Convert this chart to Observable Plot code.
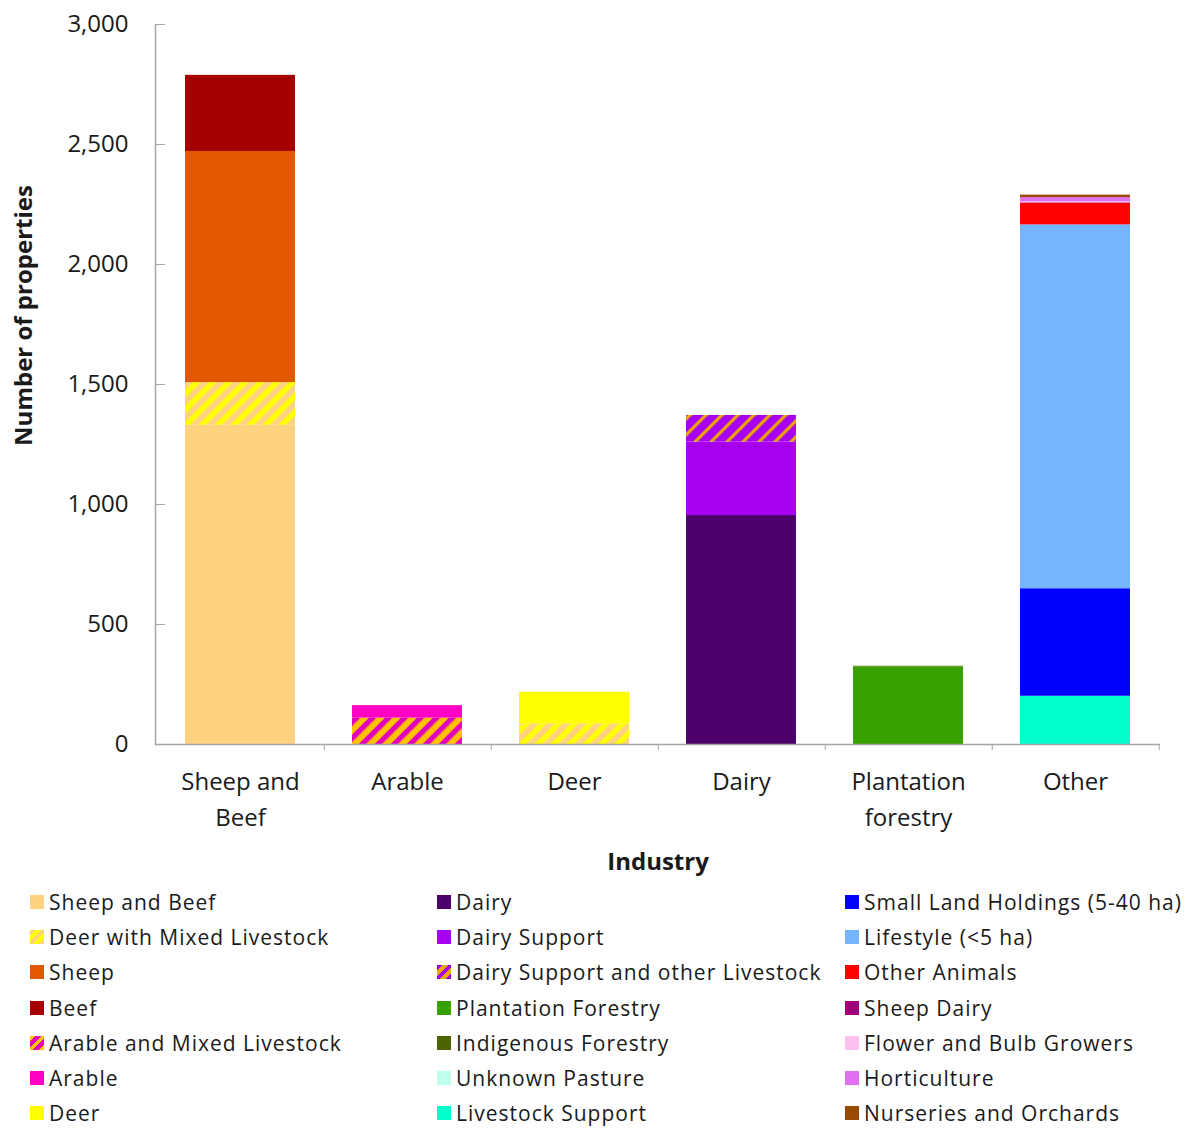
<!DOCTYPE html>
<html><head><meta charset="utf-8">
<script src="https://cdn.jsdelivr.net/npm/d3@7"></script>
<script src="https://cdn.jsdelivr.net/npm/@observablehq/plot@0.6"></script>
<style>
body{margin:0;background:#fff;font-family:"Open Sans",sans-serif;}
#legend{display:grid;grid-template-columns:407px 408px 340px;grid-template-rows:repeat(7,35.3px);grid-auto-flow:column;padding-left:30px;}
.item{display:flex;align-items:center;font-size:21px;line-height:20px;letter-spacing:1px;color:#1a1a1a;white-space:nowrap;}
.sw{width:14px;height:14px;margin-right:5px;flex:none;}
</style></head><body>
<div id="chart"></div><div id="legend"></div>
<script>
// Industries (x categories) and their tick labels
const industries = ["Sheep and Beef", "Arable", "Deer", "Dairy", "Plantation forestry", "Other"];
const industryLabels = ["Sheep and\nBeef", "Arable", "Deer", "Dairy", "Plantation\nforestry", "Other"];

// Land-use types (legend order)
const landUses = [
  "Sheep and Beef", "Deer with Mixed Livestock", "Sheep", "Beef", "Arable and Mixed Livestock", "Arable", "Deer",
  "Dairy", "Dairy Support", "Dairy Support and other Livestock", "Plantation Forestry", "Indigenous Forestry", "Unknown Pasture", "Livestock Support",
  "Small Land Holdings (5-40 ha)", "Lifestyle (<5 ha)", "Other Animals", "Sheep Dairy", "Flower and Bulb Growers", "Horticulture", "Nurseries and Orchards"
];
const landUseColors = [
  "#FFD280", "url(#hatchDWML)", "#E15800", "#A50000", "url(#hatchAML)", "#FF00C4", "#FFFF00",
  "#4C006A", "#A800F0", "url(#hatchDSOL)", "#36A100", "#4E6400", "#BFFFEE", "#00FFCC",
  "#0000FF", "#75B4FF", "#FF0000", "#A0007A", "#FFC0F0", "#E070F0", "#9A4A00"
];
const legendSwatches = {
  "url(#hatchDWML)": "repeating-linear-gradient(135deg,#FFD280 0 4px,#FFFF00 4px 8px)",
  "url(#hatchAML)": "repeating-linear-gradient(135deg,#FFC000 0 4px,#E000C0 4px 8px)",
  "url(#hatchDSOL)": "repeating-linear-gradient(135deg,#A800F0 0 4px,#E8A800 4px 8px)"
};

// Stacked segments (bottom to top within each industry)
const segIndustry = [
  "Sheep and Beef", "Sheep and Beef", "Sheep and Beef", "Sheep and Beef",
  "Arable", "Arable",
  "Deer", "Deer",
  "Dairy", "Dairy", "Dairy",
  "Plantation forestry", "Plantation forestry",
  "Other", "Other", "Other", "Other", "Other", "Other", "Other", "Other", "Other"
];
const segLandUse = [
  "Sheep and Beef", "Deer with Mixed Livestock", "Sheep", "Beef",
  "Arable and Mixed Livestock", "Arable",
  "Deer with Mixed Livestock", "Deer",
  "Dairy", "Dairy Support", "Dairy Support and other Livestock",
  "Plantation Forestry", "Indigenous Forestry",
  "Livestock Support", "Unknown Pasture", "Small Land Holdings (5-40 ha)", "Lifestyle (<5 ha)", "Other Animals", "Sheep Dairy", "Flower and Bulb Growers", "Horticulture", "Nurseries and Orchards"
];
const segCount = [
  1330, 178, 963, 317,
  110, 52,
  86, 132,
  954, 306, 111,
  323, 3,
  201, 0, 448, 1516, 90, 2, 4, 18, 10
];
const yTicks = [0, 500, 1000, 1500, 2000, 2500, 3000];

const rows = segIndustry.map((ind, i) => ({industry: ind, landUse: segLandUse[i], count: segCount[i]}));

const plot = Plot.plot({
  width: 1192, height: 884,
  marginLeft: 155, marginRight: 32, marginTop: 24, marginBottom: 140,
  style: {fontFamily: "Open Sans, sans-serif", fontSize: "24px", color: "#1a1a1a", background: "#fff"},
  x: {domain: industries, paddingInner: 0.34, paddingOuter: 0.17, label: null},
  y: {domain: [0, 3000], label: null},
  color: {domain: landUses, range: landUseColors},
  marks: [
    Plot.barY(rows, {x: "industry", y: "count", fill: "landUse"}),
    Plot.ruleY([0], {stroke: "#a6a6a6", strokeWidth: 1.5}),
    Plot.frame({anchor: "left", stroke: "#a6a6a6", strokeWidth: 1.5}),
    Plot.axisY({ticks: yTicks, tickFormat: d3.format(","), tickSize: 10, dx: 10, tickPadding: 27, stroke: "#a6a6a6", fill: "#1a1a1a", label: null, fontSize: 24, letterSpacing: 1}),
    Plot.axisX({tickSize: 0, tickPadding: 20, tickFormat: d => industryLabels[industries.indexOf(d)], lineHeight: 1.5, fontSize: 24, label: null, letterSpacing: 1}),
    Plot.axisX({tickSize: 6, dx: 83.75, tickFormat: () => "", stroke: "#a6a6a6", label: null}),
    Plot.text(["Number of properties"], {frameAnchor: "left", textAnchor: "middle", lineAnchor: "middle", rotate: -90, dx: -131, dy: -69, fontWeight: "bold", fontSize: 24, letterSpacing: 0.6}),
    Plot.text(["Industry"], {frameAnchor: "bottom", textAnchor: "middle", lineAnchor: "middle", dy: 118, fontWeight: "bold", fontSize: 24})
  ]
});

// hatch patterns
const ns = "http://www.w3.org/2000/svg";
const defs = document.createElementNS(ns, "defs");
function addHatch(id, bg, fg, w) {
  const p = document.createElementNS(ns, "pattern");
  p.setAttribute("id", id);
  p.setAttribute("patternUnits", "userSpaceOnUse");
  p.setAttribute("width", 11.3);
  p.setAttribute("height", 11.3);
  p.setAttribute("patternTransform", "rotate(45)");
  const r1 = document.createElementNS(ns, "rect");
  r1.setAttribute("width", 11.3); r1.setAttribute("height", 11.3); r1.setAttribute("fill", bg);
  const r2 = document.createElementNS(ns, "rect");
  r2.setAttribute("width", w); r2.setAttribute("height", 11.3); r2.setAttribute("fill", fg);
  p.appendChild(r1); p.appendChild(r2); defs.appendChild(p);
}
addHatch("hatchDWML", "#FFD280", "#FFFF00", 5.4);
addHatch("hatchAML", "#FFC000", "#E000C0", 5.2);
addHatch("hatchDSOL", "#A800F0", "#E8A800", 3.2);
plot.insertBefore(defs, plot.firstChild);
document.getElementById("chart").appendChild(plot);

// legend
const legend = document.getElementById("legend");
landUses.forEach((name, i) => {
  const item = document.createElement("div");
  item.className = "item";
  const sw = document.createElement("span");
  sw.className = "sw";
  const c = landUseColors[i];
  sw.style.background = legendSwatches[c] || c;
  const t = document.createElement("span");
  t.textContent = name;
  item.appendChild(sw); item.appendChild(t);
  legend.appendChild(item);
});
</script></body></html>
